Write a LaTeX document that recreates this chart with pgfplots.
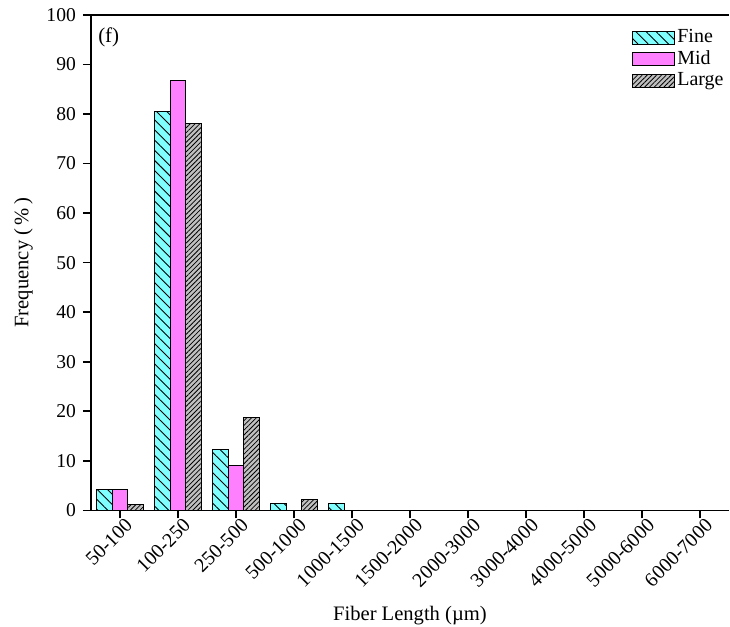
\documentclass[border=0pt]{standalone}
\usepackage{pgfplots}
\pgfplotsset{compat=1.18}
\usepackage{fontspec}
\setmainfont{Liberation Serif}
\usetikzlibrary{patterns.meta,calc}
\definecolor{cfine}{HTML}{80FFFF}
\definecolor{cmid}{HTML}{FF80FF}
\definecolor{clarge}{HTML}{C0C0C0}
\begin{document}
\begin{tikzpicture}
\begin{axis}[
  scale only axis,
  width=319.5pt, height=248pt,
  ybar=0pt, bar width=7.85pt,
  xmin=-0.5, xmax=10.5,
  ymin=0, ymax=100,
  ytick={0,10,...,100},
  xtick={0,...,10},
  xticklabels={50-100,100-250,250-500,500-1000,1000-1500,1500-2000,2000-3000,3000-4000,4000-5000,5000-6000,6000-7000},
  axis x line*=bottom, axis y line*=left,
  axis line style={line width=0.8pt, -},
  tick style={line width=0.8pt, black},
  tick align=outside,
  major tick length=4pt,
  xtick pos=bottom, ytick pos=left,
  /pgf/number format/assume math mode=true,
  yticklabel style={font=\fontsize{9.8}{11}\selectfont},
  xticklabel style={font=\fontsize{10}{11}\selectfont, rotate=45, anchor=north east, inner sep=1pt, xshift=3pt},
  xlabel={Fiber Length (µm)},
  ylabel={Frequency (\,\%\,)},
  label style={font=\fontsize{10.3}{12}\selectfont},
  xlabel style={yshift=-4pt},
  ylabel style={yshift=0pt},
  legend style={draw=none, fill=none, at={(rel axis cs:0.848,0.975)}, anchor=north west,
    font=\fontsize{10}{12}\selectfont, row sep=0.5pt, inner sep=0pt, nodes={inner sep=1pt}},
  legend cell align=left,
  legend image code/.code={\draw[#1,line width=0.5pt] (0pt,-3.25pt) rectangle (21pt,3.25pt);},
  clip=false,
]
\addplot[draw=black, line width=0.5pt, fill=cfine,
  postaction={pattern={Lines[angle=-45,distance=3.6pt,line width=0.45pt]}, pattern color=black}]
  coordinates {(0,4.3) (1,80.5) (2,12.2) (3,1.4) (4,1.4) (5,0) (6,0) (7,0) (8,0) (9,0) (10,0)};
\addplot[draw=black, line width=0.5pt, fill=cmid]
  coordinates {(0,4.3) (1,86.7) (2,9.1) (3,0) (4,0) (5,0) (6,0) (7,0) (8,0) (9,0) (10,0)};
\addplot[draw=black, line width=0.5pt, fill=clarge,
  postaction={pattern={Lines[angle=45,distance=1.7pt,line width=0.4pt]}, pattern color=black}]
  coordinates {(0,1.1) (1,78.0) (2,18.7) (3,2.2) (4,0) (5,0) (6,0) (7,0) (8,0) (9,0) (10,0)};
\legend{Fine,Mid,Large}
\draw[line width=0.8pt] (rel axis cs:0,1) -- (rel axis cs:1,1);
\node[anchor=west, font=\fontsize{10.5}{12}\selectfont, inner sep=0pt] at ($(rel axis cs:0,1)+(3.5pt,-11pt)$) {(f)};
\coordinate (O) at (rel axis cs:0,0);
\coordinate (T) at (rel axis cs:1,1);
\end{axis}
\pgfresetboundingbox
\path (O) ++(-45.5pt,-58pt) rectangle ($(T)+(0.5pt,7.5pt)$);
\end{tikzpicture}
\end{document}
